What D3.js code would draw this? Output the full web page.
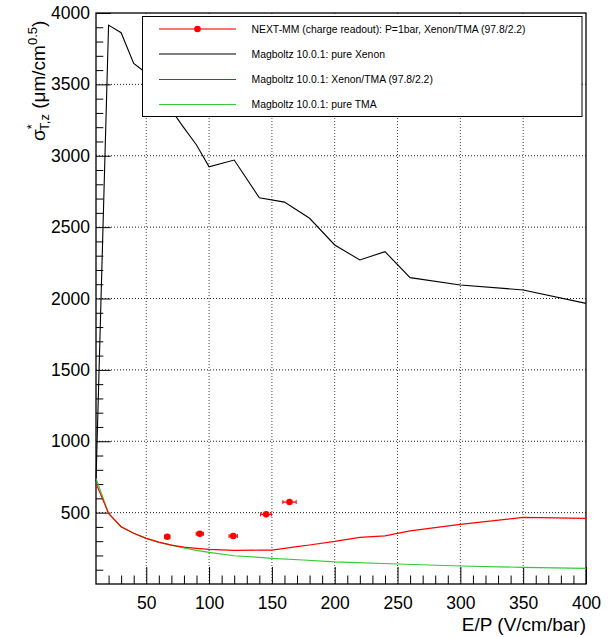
<!DOCTYPE html>
<html><head><meta charset="utf-8">
<script src="https://cdn.jsdelivr.net/npm/d3@7"></script>
<style>body{margin:0;background:#fff}svg{display:block}text{font-family:"Liberation Sans",Arial,Helvetica,sans-serif}</style>
</head><body><svg id="c" width="608" height="637"></svg>
<script>
// ---- data ----
const xenonX = [10, 20, 30, 40, 50, 60, 70, 80, 90, 100, 120, 140, 160, 180, 200, 220, 240, 260, 300, 350, 400];
const xenonY = [720, 3915, 3862, 3647, 3580, 3450, 3320, 3195, 3075, 2923, 2970, 2705, 2675, 2562, 2375, 2270, 2328, 2146, 2095, 2060, 1966];
const mixX = [10, 20, 30, 40, 50, 60, 70, 80, 90, 100, 120, 140, 150, 160, 170, 180, 200, 220, 240, 260, 300, 350, 400];
const mixY = [705, 495, 401, 355, 320, 293, 272, 258, 250, 243, 235, 237, 238, 250, 262, 273, 298, 327, 337, 372, 418, 467, 460];
const tmaX = [10, 20, 30, 40, 50, 60, 70, 80, 90, 100, 120, 140, 150, 175, 200, 250, 300, 350, 400];
const tmaY = [740, 495, 400, 355, 320, 292, 272, 252, 236, 222, 198, 186, 180, 168, 155, 140, 126, 117, 110];
const dataX = [66.7, 92.6, 119.2, 145.4, 164];
const dataY = [331, 352, 336, 488, 574];
const dataXErr = [2, 2.9, 3.3, 4.4, 5.3];
const xTicks = [50, 100, 150, 200, 250, 300, 350, 400];
const yTicks = [500, 1000, 1500, 2000, 2500, 3000, 3500, 4000];
const legendLabels = ["NEXT-MM (charge readout): P=1bar, Xenon/TMA (97.8/2.2)",
  "Magboltz 10.0.1: pure Xenon", "Magboltz 10.0.1: Xenon/TMA (97.8/2.2)", "Magboltz 10.0.1: pure TMA"];

// ---- layout ----
const L = 96, R = 586, T = 13, B = 584;
const svg = d3.select("#c");
const x = d3.scaleLinear().domain([10, 400]).range([L, R]);
const y = d3.scaleLinear().domain([0, 4000]).range([B, T]);

// grid
const g = svg.append("g");
g.selectAll(".gx").data(xTicks.filter(d => d < 400)).join("line")
  .attr("x1", d => x(d)).attr("x2", d => x(d)).attr("y1", B).attr("y2", T)
  .attr("stroke", "#444").attr("stroke-width", 1).attr("stroke-dasharray", "1,2");
g.selectAll(".gy").data(yTicks.filter(d => d < 4000)).join("line")
  .attr("x1", L).attr("x2", R).attr("y1", d => y(d)).attr("y2", d => y(d))
  .attr("stroke", "#222").attr("stroke-width", 1).attr("stroke-dasharray", "1,2");

// axes with inward ticks
const xMinor = d3.range(20, 400, 10).filter(d => d % 50 !== 0);
const yMinor = d3.range(100, 4000, 100).filter(d => d % 500 !== 0);
const ax = svg.append("g").attr("transform", `translate(0,${B})`)
  .call(d3.axisBottom(x).tickValues(xTicks).tickSize(-17).tickPadding(12.5).tickFormat(d3.format("d")));
ax.select(".domain").remove();
svg.append("g").attr("transform", `translate(0,${B})`)
  .call(d3.axisBottom(x).tickValues(xMinor).tickSize(-8.5).tickFormat(""))
  .select(".domain").remove();
const ay = svg.append("g").attr("transform", `translate(${L},0)`)
  .call(d3.axisLeft(y).tickValues(yTicks).tickSize(-14.7).tickPadding(6).tickFormat(d3.format("d")));
ay.select(".domain").remove();
svg.append("g").attr("transform", `translate(${L},0)`)
  .call(d3.axisLeft(y).tickValues(yMinor).tickSize(-7.3).tickFormat(""))
  .select(".domain").remove();
svg.selectAll(".tick text").attr("font-size", 17.5).attr("fill", "#000")
  .attr("font-family", "Liberation Sans, Arial, sans-serif");
svg.selectAll(".tick line").attr("stroke", "#000");

// frame
svg.append("rect").attr("x", L).attr("y", T).attr("width", R - L).attr("height", B - T)
  .attr("fill", "none").attr("stroke", "#000").attr("stroke-width", 1.3);

// curves
const line = d3.line().x(d => x(d[0])).y(d => y(d[1]));
const plot = svg.append("g");
plot.append("path").datum(d3.zip(xenonX, xenonY)).attr("d", line)
  .attr("fill", "none").attr("stroke", "#000").attr("stroke-width", 1.1);
plot.append("path").datum(d3.zip(tmaX, tmaY)).attr("d", line)
  .attr("fill", "none").attr("stroke", "#33cc33").attr("stroke-width", 1.2);
plot.append("path").datum(d3.zip(mixX, mixY)).attr("d", line)
  .attr("fill", "none").attr("stroke", "#ff0000").attr("stroke-width", 1.2);

// data points
const pts = plot.selectAll(".pt").data(d3.range(dataX.length)).join("g");
pts.append("line").attr("x1", i => x(dataX[i] - dataXErr[i])).attr("x2", i => x(dataX[i] + dataXErr[i]))
  .attr("y1", i => y(dataY[i])).attr("y2", i => y(dataY[i])).attr("stroke", "#ff0000").attr("stroke-width", 1.3);
pts.append("line").attr("x1", i => x(dataX[i] - dataXErr[i])).attr("x2", i => x(dataX[i] - dataXErr[i]))
  .attr("y1", i => y(dataY[i]) - 2).attr("y2", i => y(dataY[i]) + 2).attr("stroke", "#ff0000").attr("stroke-width", 1);
pts.append("line").attr("x1", i => x(dataX[i] + dataXErr[i])).attr("x2", i => x(dataX[i] + dataXErr[i]))
  .attr("y1", i => y(dataY[i]) - 2).attr("y2", i => y(dataY[i]) + 2).attr("stroke", "#ff0000").attr("stroke-width", 1);
pts.append("circle").attr("cx", i => x(dataX[i])).attr("cy", i => y(dataY[i])).attr("r", 3.3).attr("fill", "#ff0000");

// legend
const lg = svg.append("g");
lg.append("rect").attr("x", 142.5).attr("y", 16.5).attr("width", 439.5).attr("height", 100)
  .attr("fill", "#fff").attr("stroke", "#000").attr("stroke-width", 1);
const legColors = ["#ff0000", "#000", "#ff0000", "#33cc33"];
const rowY = [29, 54, 79.5, 104.5];
legendLabels.forEach((t, i) => {
  lg.append("line").attr("x1", 159).attr("x2", 236).attr("y1", rowY[i]).attr("y2", rowY[i])
    .attr("stroke", legColors[i]).attr("stroke-width", i === 0 ? 1.8 : 1.1).attr("stroke-opacity", i === 0 ? 0.55 : 1);
  if (i === 0) lg.append("circle").attr("cx", 197.5).attr("cy", rowY[i]).attr("r", 3.3).attr("fill", "#ff0000");
  lg.append("text").attr("x", 251.5).attr("y", rowY[i] + 3.8).attr("font-size", 10.4).text(t);
});

// axis titles
svg.append("text").attr("x", R).attr("y", 631).attr("text-anchor", "end").attr("font-size", 19).text("E/P (V/cm/bar)");
const yt = svg.append("text").attr("transform", "translate(45,141) rotate(-90)").attr("font-size", 19);
yt.append("tspan").text("σ");
yt.append("tspan").attr("font-size", 13).attr("dy", -9).text("*");
yt.append("tspan").attr("font-size", 13).attr("dx", -6.5).attr("dy", 13).text("T,z");
yt.append("tspan").attr("dy", -4).text(" (μm/cm");
yt.append("tspan").attr("font-size", 13).attr("dy", -8).text("0.5");
yt.append("tspan").attr("dy", 8).text(")");
</script></body></html>
